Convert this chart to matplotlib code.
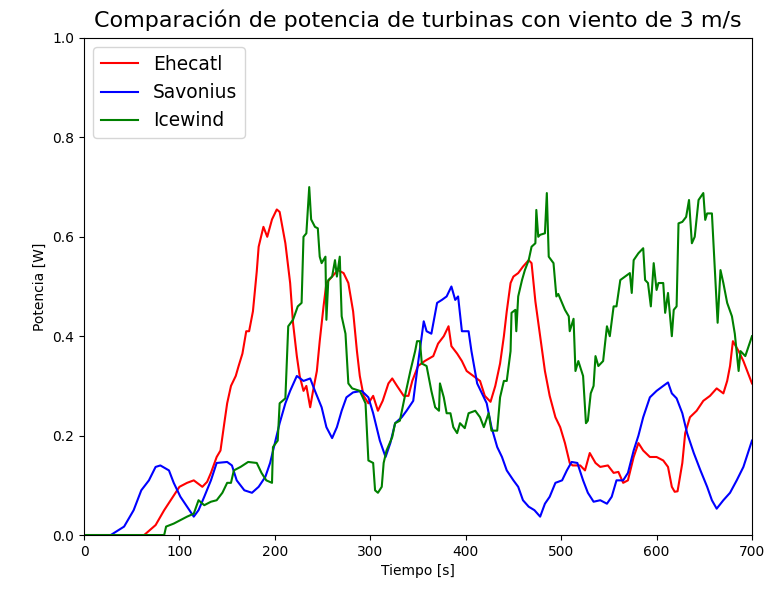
import matplotlib
matplotlib.use('Agg')
import matplotlib.pyplot as plt
import numpy as np

# potencia medida [W] contra tiempo [s]
t_ehecatl = [0, 63, 75, 84, 100, 108, 115, 124, 129, 133, 139, 143, 147, 150, 154, 159, 162, 166,
             170, 173, 177, 181, 183, 188, 192, 197, 202, 205, 211, 216, 219, 223, 226, 230, 233,
             237, 240, 244, 247, 251, 254, 260, 266, 272, 277, 282, 286, 289, 293, 298, 303, 308,
             313, 319, 323, 328, 335, 340, 344, 350, 357, 366, 371, 377, 382, 385, 391, 396, 401,
             408, 415, 420, 426, 431, 436, 440, 443, 447, 450, 455, 460, 466, 469, 473, 478, 483,
             488, 494, 499, 504, 509, 512, 520, 525, 530, 536, 541, 549, 555, 560, 565, 570, 576,
             581, 586, 593, 600, 607, 612, 616, 619, 622, 627, 630, 635, 642, 649, 656, 663, 670,
             674, 677, 680, 686, 691, 700]
p_ehecatl = [0, 0, 0.02, 0.05, 0.097, 0.105, 0.11, 0.097, 0.107, 0.125, 0.157, 0.17, 0.225, 0.265,
             0.30, 0.32, 0.34, 0.365, 0.41, 0.41, 0.45, 0.53, 0.58, 0.62, 0.60, 0.635, 0.655, 0.65,
             0.587, 0.507, 0.427, 0.36, 0.32, 0.29, 0.30, 0.257, 0.29, 0.33, 0.39, 0.46, 0.507,
             0.52, 0.533, 0.527, 0.507, 0.45, 0.37, 0.32, 0.28, 0.265, 0.28, 0.25, 0.27, 0.305,
             0.315, 0.30, 0.28, 0.28, 0.31, 0.34, 0.35, 0.36, 0.385, 0.40, 0.42, 0.38, 0.365, 0.35,
             0.33, 0.32, 0.31, 0.28, 0.268, 0.30, 0.345, 0.40, 0.45, 0.507, 0.52, 0.527, 0.54,
             0.553, 0.547, 0.47, 0.40, 0.33, 0.28, 0.237, 0.217, 0.185, 0.145, 0.14, 0.14, 0.13,
             0.165, 0.145, 0.137, 0.14, 0.125, 0.127, 0.105, 0.11, 0.157, 0.185, 0.17, 0.157,
             0.157, 0.15, 0.137, 0.097, 0.087, 0.088, 0.145, 0.205, 0.237, 0.25, 0.27, 0.28, 0.295,
             0.285, 0.31, 0.34, 0.39, 0.37, 0.35, 0.305]

t_savonius = [0, 28, 42, 52, 60, 68, 75, 80, 89, 94, 101, 108, 115, 120, 126, 133, 139, 150, 155,
              160, 168, 176, 183, 190, 195, 200, 205, 211, 216, 223, 230, 237, 242, 249, 254, 260,
              265, 270, 275, 282, 291, 298, 303, 310, 316, 321, 326, 333, 338, 345, 350, 356, 359,
              364, 370, 375, 380, 385, 389, 392, 396, 403, 406, 412, 417, 422, 427, 433, 438, 443,
              450, 455, 460, 466, 472, 478, 483, 488, 494, 501, 506, 511, 517, 523, 528, 534, 541,
              548, 553, 558, 565, 570, 576, 581, 586, 593, 600, 607, 612, 616, 621, 627, 632, 639,
              646, 653, 658, 663, 670, 677, 684, 691, 700]
p_savonius = [0, 0, 0.017, 0.05, 0.09, 0.11, 0.137, 0.14, 0.13, 0.105, 0.077, 0.057, 0.037, 0.05,
              0.077, 0.11, 0.145, 0.147, 0.14, 0.11, 0.09, 0.085, 0.097, 0.117, 0.145, 0.185, 0.225,
              0.265, 0.29, 0.32, 0.31, 0.315, 0.29, 0.257, 0.217, 0.195, 0.217, 0.25, 0.277, 0.287,
              0.29, 0.277, 0.245, 0.19, 0.157, 0.185, 0.225, 0.237, 0.25, 0.27, 0.345, 0.43, 0.41,
              0.405, 0.467, 0.473, 0.48, 0.50, 0.473, 0.48, 0.41, 0.41, 0.37, 0.305, 0.285, 0.265,
              0.217, 0.177, 0.157, 0.13, 0.11, 0.097, 0.07, 0.057, 0.05, 0.037, 0.063, 0.077, 0.105,
              0.11, 0.13, 0.147, 0.145, 0.11, 0.085, 0.067, 0.07, 0.063, 0.077, 0.11, 0.11, 0.125,
              0.17, 0.20, 0.237, 0.277, 0.29, 0.30, 0.307, 0.285, 0.275, 0.245, 0.205, 0.165, 0.13,
              0.097, 0.07, 0.053, 0.07, 0.085, 0.11, 0.137, 0.19]

t_icewind = [0, 84, 86, 94, 101, 108, 115, 120, 126, 133, 139, 145, 150, 154, 157, 164, 172, 181,
             186, 191, 197, 198, 203, 205, 211, 214, 219, 224, 228, 230, 233, 236, 238, 242, 245,
             247, 249, 253, 254, 256, 260, 263, 265, 268, 270, 274, 277, 281, 289, 295, 298, 303,
             305, 308, 312, 314, 317, 323, 326, 331, 336, 342, 347, 349, 352, 354, 359, 364, 368,
             372, 373, 377, 380, 384, 387, 391, 394, 399, 403, 410, 415, 419, 424, 427, 433, 436,
             440, 443, 447, 448, 452, 453, 455, 459, 462, 466, 469, 473, 474, 476, 478, 483, 485,
             487, 492, 495, 497, 501, 504, 508, 509, 513, 515, 518, 523, 526, 528, 531, 534, 536,
             539, 544, 548, 551, 555, 558, 562, 567, 572, 574, 576, 581, 586, 588, 591, 594, 597,
             600, 602, 607, 609, 612, 616, 618, 621, 623, 627, 631, 634, 637, 640, 644, 649, 651,
             653, 658, 660, 664, 667, 670, 674, 679, 682, 686, 688, 693, 700]
p_icewind = [0, 0, 0.017, 0.023, 0.03, 0.037, 0.043, 0.07, 0.06, 0.067, 0.07, 0.085, 0.105, 0.105,
             0.13, 0.137, 0.147, 0.145, 0.125, 0.11, 0.105, 0.177, 0.19, 0.265, 0.275, 0.42, 0.433,
             0.46, 0.467, 0.60, 0.607, 0.70, 0.635, 0.62, 0.617, 0.56, 0.547, 0.56, 0.433, 0.513,
             0.52, 0.553, 0.52, 0.56, 0.44, 0.405, 0.305, 0.295, 0.29, 0.265, 0.15, 0.145, 0.09,
             0.085, 0.097, 0.145, 0.17, 0.197, 0.225, 0.23, 0.277, 0.33, 0.37, 0.39, 0.39, 0.345,
             0.34, 0.29, 0.257, 0.25, 0.305, 0.277, 0.245, 0.245, 0.217, 0.205, 0.225, 0.215, 0.245,
             0.25, 0.237, 0.217, 0.245, 0.21, 0.21, 0.277, 0.31, 0.31, 0.37, 0.447, 0.453, 0.41,
             0.48, 0.513, 0.533, 0.553, 0.58, 0.587, 0.654, 0.60, 0.604, 0.607, 0.688, 0.56, 0.547,
             0.48, 0.485, 0.467, 0.453, 0.44, 0.41, 0.435, 0.33, 0.35, 0.32, 0.225, 0.23, 0.285,
             0.30, 0.36, 0.34, 0.35, 0.42, 0.40, 0.46, 0.46, 0.513, 0.52, 0.527, 0.487, 0.553,
             0.567, 0.577, 0.513, 0.507, 0.46, 0.547, 0.493, 0.507, 0.507, 0.447, 0.487, 0.40,
             0.453, 0.46, 0.627, 0.63, 0.64, 0.674, 0.587, 0.60, 0.674, 0.688, 0.634, 0.647, 0.647,
             0.573, 0.427, 0.533, 0.507, 0.467, 0.44, 0.405, 0.33, 0.37, 0.36, 0.40]

fig = plt.figure(figsize=(7.66, 5.96), dpi=100)
ax = fig.add_axes([0.1097, 0.1023, 0.872, 0.834])
ax.plot(t_ehecatl, p_ehecatl, 'r-', label='Ehecatl')
ax.plot(t_savonius, p_savonius, 'b-', label='Savonius')
ax.plot(t_icewind, p_icewind, 'g-', label='Icewind')
ax.set_xlim(0, 700)
ax.set_ylim(0, 1.0)
ax.set_xlabel('Tiempo [s]')
ax.set_ylabel('Potencia [W]')
ax.set_title('Comparación de potencia de turbinas con viento de 3 m/s', fontsize=16, pad=8)
ax.legend(loc='upper left', fontsize=13.4)
fig.savefig('out.png', dpi=100)
